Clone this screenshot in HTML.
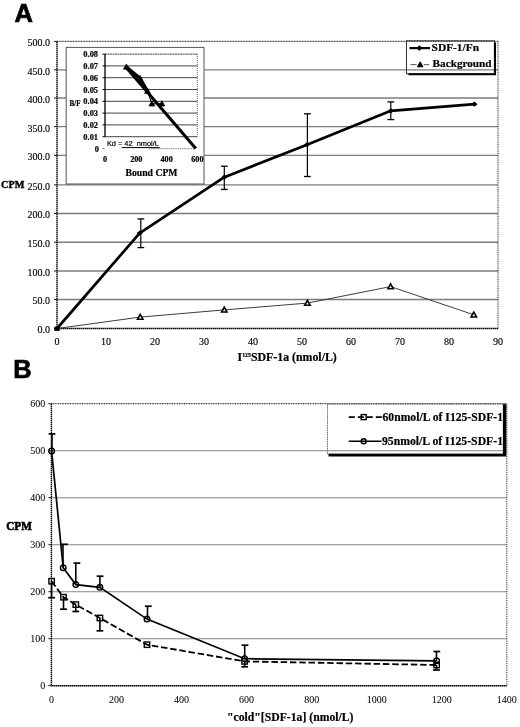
<!DOCTYPE html>
<html><head><meta charset="utf-8"><style>
html,body{margin:0;padding:0;background:#fff;width:520px;height:727px;overflow:hidden}
svg{display:block}
</style></head><body>
<svg width="520" height="727" viewBox="0 0 520 727">
<defs><filter id="bl" x="0" y="0" width="520" height="727" filterUnits="userSpaceOnUse"><feGaussianBlur stdDeviation="0.45"/></filter></defs>
<rect width="520" height="727" fill="#fff"/>
<g filter="url(#bl)">
<text x="14.40" y="22.30" style="font-family:'Liberation Sans',sans-serif;font-size:25.5px;font-weight:bold;stroke:#000;stroke-width:0.7px">A</text>
<line x1="57.00" y1="299.50" x2="498.00" y2="299.50" stroke="#7c7c7c" stroke-width="1.35"/>
<line x1="57.00" y1="271.00" x2="498.00" y2="271.00" stroke="#7c7c7c" stroke-width="1.35"/>
<line x1="57.00" y1="242.20" x2="498.00" y2="242.20" stroke="#7c7c7c" stroke-width="1.35"/>
<line x1="57.00" y1="213.50" x2="498.00" y2="213.50" stroke="#7c7c7c" stroke-width="1.35"/>
<line x1="57.00" y1="184.90" x2="498.00" y2="184.90" stroke="#7c7c7c" stroke-width="1.35"/>
<line x1="57.00" y1="155.30" x2="498.00" y2="155.30" stroke="#7c7c7c" stroke-width="1.35"/>
<line x1="57.00" y1="126.60" x2="498.00" y2="126.60" stroke="#7c7c7c" stroke-width="1.35"/>
<line x1="57.00" y1="98.00" x2="498.00" y2="98.00" stroke="#7c7c7c" stroke-width="1.35"/>
<line x1="57.00" y1="69.80" x2="498.00" y2="69.80" stroke="#7c7c7c" stroke-width="1.35"/>
<line x1="57.00" y1="41.40" x2="498.00" y2="41.40" stroke="#333" stroke-width="1.2" stroke-dasharray="1 0.6"/>
<line x1="498.00" y1="41.40" x2="498.00" y2="328.50" stroke="#333" stroke-width="1.1" stroke-dasharray="1 0.8"/>
<line x1="57.00" y1="41.40" x2="57.00" y2="328.50" stroke="#000" stroke-width="1.4" stroke-dasharray="1.6 0.4"/>
<line x1="57.00" y1="328.50" x2="498.00" y2="328.50" stroke="#000" stroke-width="1.5" stroke-dasharray="1.6 0.4"/>
<line x1="54.00" y1="328.50" x2="57.00" y2="328.50" stroke="#151515" stroke-width="1"/>
<text x="50.00" y="333.40" text-anchor="end" style="font-family:'Liberation Serif',serif;font-size:10px;stroke:#000;stroke-width:0.15px">0.0</text>
<line x1="54.00" y1="299.50" x2="57.00" y2="299.50" stroke="#151515" stroke-width="1"/>
<text x="50.00" y="304.40" text-anchor="end" style="font-family:'Liberation Serif',serif;font-size:10px;stroke:#000;stroke-width:0.15px">50.0</text>
<line x1="54.00" y1="271.00" x2="57.00" y2="271.00" stroke="#151515" stroke-width="1"/>
<text x="50.00" y="275.90" text-anchor="end" style="font-family:'Liberation Serif',serif;font-size:10px;stroke:#000;stroke-width:0.15px">100.0</text>
<line x1="54.00" y1="242.20" x2="57.00" y2="242.20" stroke="#151515" stroke-width="1"/>
<text x="50.00" y="247.10" text-anchor="end" style="font-family:'Liberation Serif',serif;font-size:10px;stroke:#000;stroke-width:0.15px">150.0</text>
<line x1="54.00" y1="213.50" x2="57.00" y2="213.50" stroke="#151515" stroke-width="1"/>
<text x="50.00" y="218.40" text-anchor="end" style="font-family:'Liberation Serif',serif;font-size:10px;stroke:#000;stroke-width:0.15px">200.0</text>
<line x1="54.00" y1="184.90" x2="57.00" y2="184.90" stroke="#151515" stroke-width="1"/>
<text x="50.00" y="189.80" text-anchor="end" style="font-family:'Liberation Serif',serif;font-size:10px;stroke:#000;stroke-width:0.15px">250.0</text>
<line x1="54.00" y1="155.30" x2="57.00" y2="155.30" stroke="#151515" stroke-width="1"/>
<text x="50.00" y="160.20" text-anchor="end" style="font-family:'Liberation Serif',serif;font-size:10px;stroke:#000;stroke-width:0.15px">300.0</text>
<line x1="54.00" y1="126.60" x2="57.00" y2="126.60" stroke="#151515" stroke-width="1"/>
<text x="50.00" y="131.50" text-anchor="end" style="font-family:'Liberation Serif',serif;font-size:10px;stroke:#000;stroke-width:0.15px">350.0</text>
<line x1="54.00" y1="98.00" x2="57.00" y2="98.00" stroke="#151515" stroke-width="1"/>
<text x="50.00" y="102.90" text-anchor="end" style="font-family:'Liberation Serif',serif;font-size:10px;stroke:#000;stroke-width:0.15px">400.0</text>
<line x1="54.00" y1="69.80" x2="57.00" y2="69.80" stroke="#151515" stroke-width="1"/>
<text x="50.00" y="74.70" text-anchor="end" style="font-family:'Liberation Serif',serif;font-size:10px;stroke:#000;stroke-width:0.15px">450.0</text>
<line x1="54.00" y1="41.40" x2="57.00" y2="41.40" stroke="#151515" stroke-width="1"/>
<text x="50.00" y="46.30" text-anchor="end" style="font-family:'Liberation Serif',serif;font-size:10px;stroke:#000;stroke-width:0.15px">500.0</text>
<text x="57.00" y="344.80" text-anchor="middle" style="font-family:'Liberation Serif',serif;font-size:10px;stroke:#000;stroke-width:0.15px">0</text>
<text x="106.00" y="344.80" text-anchor="middle" style="font-family:'Liberation Serif',serif;font-size:10px;stroke:#000;stroke-width:0.15px">10</text>
<text x="155.00" y="344.80" text-anchor="middle" style="font-family:'Liberation Serif',serif;font-size:10px;stroke:#000;stroke-width:0.15px">20</text>
<text x="204.00" y="344.80" text-anchor="middle" style="font-family:'Liberation Serif',serif;font-size:10px;stroke:#000;stroke-width:0.15px">30</text>
<text x="253.00" y="344.80" text-anchor="middle" style="font-family:'Liberation Serif',serif;font-size:10px;stroke:#000;stroke-width:0.15px">40</text>
<text x="302.00" y="344.80" text-anchor="middle" style="font-family:'Liberation Serif',serif;font-size:10px;stroke:#000;stroke-width:0.15px">50</text>
<text x="351.00" y="344.80" text-anchor="middle" style="font-family:'Liberation Serif',serif;font-size:10px;stroke:#000;stroke-width:0.15px">60</text>
<text x="400.00" y="344.80" text-anchor="middle" style="font-family:'Liberation Serif',serif;font-size:10px;stroke:#000;stroke-width:0.15px">70</text>
<text x="449.00" y="344.80" text-anchor="middle" style="font-family:'Liberation Serif',serif;font-size:10px;stroke:#000;stroke-width:0.15px">80</text>
<text x="498.00" y="344.80" text-anchor="middle" style="font-family:'Liberation Serif',serif;font-size:10px;stroke:#000;stroke-width:0.15px">90</text>
<text x="1.00" y="187.70" textLength="23.30" lengthAdjust="spacingAndGlyphs" style="font-family:'Liberation Serif',serif;font-size:10.5px;font-weight:bold;stroke:#000;stroke-width:0.4px">CPM</text>
<text x="237.6" y="361.3" style="font-family:'Liberation Serif',serif;font-weight:bold;font-size:11.85px;stroke:#000;stroke-width:0.2px">I<tspan dy="-4.6" style="font-size:5.8px">125</tspan><tspan dy="4.6">SDF-1a (nmol/L)</tspan></text>
<polyline fill="none" stroke="#333" stroke-width="0.95" points="57,328.5 140.2,317.1 224.3,309.9 307.4,303.1 390.6,286.6 473.8,314.8"/>
<path d="M140.20,314.40 L142.90,319.26 L137.50,319.26 Z" fill="#fff" stroke="#000" stroke-width="1.6"/>
<path d="M224.30,307.20 L227.00,312.06 L221.60,312.06 Z" fill="#fff" stroke="#000" stroke-width="1.6"/>
<path d="M307.40,300.40 L310.10,305.26 L304.70,305.26 Z" fill="#fff" stroke="#000" stroke-width="1.6"/>
<path d="M390.60,283.90 L393.30,288.76 L387.90,288.76 Z" fill="#fff" stroke="#000" stroke-width="1.6"/>
<path d="M473.80,312.10 L476.50,316.96 L471.10,316.96 Z" fill="#fff" stroke="#000" stroke-width="1.6"/>
<line x1="140.80" y1="218.90" x2="140.80" y2="247.60" stroke="#000" stroke-width="1.2"/>
<line x1="137.40" y1="218.90" x2="144.20" y2="218.90" stroke="#000" stroke-width="1.3"/>
<line x1="137.40" y1="247.60" x2="144.20" y2="247.60" stroke="#000" stroke-width="1.3"/>
<line x1="224.30" y1="166.20" x2="224.30" y2="189.40" stroke="#000" stroke-width="1.2"/>
<line x1="220.90" y1="166.20" x2="227.70" y2="166.20" stroke="#000" stroke-width="1.3"/>
<line x1="220.90" y1="189.40" x2="227.70" y2="189.40" stroke="#000" stroke-width="1.3"/>
<line x1="307.40" y1="113.80" x2="307.40" y2="176.50" stroke="#000" stroke-width="1.2"/>
<line x1="304.00" y1="113.80" x2="310.80" y2="113.80" stroke="#000" stroke-width="1.3"/>
<line x1="304.00" y1="176.50" x2="310.80" y2="176.50" stroke="#000" stroke-width="1.3"/>
<line x1="390.80" y1="101.90" x2="390.80" y2="119.60" stroke="#000" stroke-width="1.2"/>
<line x1="387.40" y1="101.90" x2="394.20" y2="101.90" stroke="#000" stroke-width="1.3"/>
<line x1="387.40" y1="119.60" x2="394.20" y2="119.60" stroke="#000" stroke-width="1.3"/>
<polyline fill="none" stroke="#000" stroke-width="2.7" stroke-linejoin="round" points="57,328.5 139.7,233.1 224.3,177.2 307,144.7 390.8,110.8 474.6,104.2"/>
<path d="M139.70,230.50 L142.70,233.10 L139.70,235.70 L136.70,233.10 Z" fill="#000"/>
<path d="M224.30,174.60 L227.30,177.20 L224.30,179.80 L221.30,177.20 Z" fill="#000"/>
<path d="M307.00,142.10 L310.00,144.70 L307.00,147.30 L304.00,144.70 Z" fill="#000"/>
<path d="M390.80,108.20 L393.80,110.80 L390.80,113.40 L387.80,110.80 Z" fill="#000"/>
<path d="M474.40,101.60 L477.60,104.20 L474.40,106.80 L471.20,104.20 Z" fill="#000"/>
<rect x="54.3" y="326.6" width="5.4" height="4.3" fill="#000"/>
<rect x="406.5" y="40.8" width="88" height="33" fill="none" stroke="#333" stroke-width="1"/>
<path d="M493.9,42.5 H496 V75.2 H408.5 V73.2 H493.9 Z" fill="#000"/>
<line x1="409.50" y1="48.10" x2="430.00" y2="48.10" stroke="#000" stroke-width="2.2"/>
<path d="M419.40,45.30 L422.20,48.10 L419.40,50.90 L416.60,48.10 Z" fill="#000"/>
<text x="431.60" y="51.30" textLength="47.40" lengthAdjust="spacingAndGlyphs" style="font-family:'Liberation Serif',serif;font-size:11.4px;font-weight:bold;stroke:#000;stroke-width:0.2px">SDF-1/Fn</text>
<line x1="410.50" y1="64.60" x2="416.50" y2="64.60" stroke="#555" stroke-width="1"/>
<line x1="423.80" y1="64.60" x2="429.00" y2="64.60" stroke="#555" stroke-width="1"/>
<path d="M420.20,61.80 L423.00,66.84 L417.40,66.84 Z" fill="#000" stroke="#000" stroke-width="1.0"/>
<text x="432.60" y="66.70" textLength="59.00" lengthAdjust="spacingAndGlyphs" style="font-family:'Liberation Serif',serif;font-size:11.2px;font-weight:bold;stroke:#000;stroke-width:0.2px">Background</text>
<rect x="66.2" y="47.4" width="137.8" height="136.6" fill="#fff" stroke="#555" stroke-width="1"/>
<line x1="105.00" y1="136.70" x2="197.30" y2="136.70" stroke="#444" stroke-width="1"/>
<line x1="102.50" y1="136.70" x2="105.00" y2="136.70" stroke="#000" stroke-width="1"/>
<text x="98.00" y="139.70" text-anchor="end" style="font-family:'Liberation Serif',serif;font-size:8.4px;font-weight:bold;stroke:#000;stroke-width:0.2px">0.01</text>
<line x1="105.00" y1="124.90" x2="197.30" y2="124.90" stroke="#444" stroke-width="1"/>
<line x1="102.50" y1="124.90" x2="105.00" y2="124.90" stroke="#000" stroke-width="1"/>
<text x="98.00" y="127.90" text-anchor="end" style="font-family:'Liberation Serif',serif;font-size:8.4px;font-weight:bold;stroke:#000;stroke-width:0.2px">0.02</text>
<line x1="105.00" y1="113.10" x2="197.30" y2="113.10" stroke="#444" stroke-width="1"/>
<line x1="102.50" y1="113.10" x2="105.00" y2="113.10" stroke="#000" stroke-width="1"/>
<text x="98.00" y="116.10" text-anchor="end" style="font-family:'Liberation Serif',serif;font-size:8.4px;font-weight:bold;stroke:#000;stroke-width:0.2px">0.03</text>
<line x1="105.00" y1="101.30" x2="197.30" y2="101.30" stroke="#444" stroke-width="1"/>
<line x1="102.50" y1="101.30" x2="105.00" y2="101.30" stroke="#000" stroke-width="1"/>
<text x="98.00" y="104.30" text-anchor="end" style="font-family:'Liberation Serif',serif;font-size:8.4px;font-weight:bold;stroke:#000;stroke-width:0.2px">0.04</text>
<line x1="105.00" y1="89.50" x2="197.30" y2="89.50" stroke="#444" stroke-width="1"/>
<line x1="102.50" y1="89.50" x2="105.00" y2="89.50" stroke="#000" stroke-width="1"/>
<text x="98.00" y="92.50" text-anchor="end" style="font-family:'Liberation Serif',serif;font-size:8.4px;font-weight:bold;stroke:#000;stroke-width:0.2px">0.05</text>
<line x1="105.00" y1="77.70" x2="197.30" y2="77.70" stroke="#444" stroke-width="1"/>
<line x1="102.50" y1="77.70" x2="105.00" y2="77.70" stroke="#000" stroke-width="1"/>
<text x="98.00" y="80.70" text-anchor="end" style="font-family:'Liberation Serif',serif;font-size:8.4px;font-weight:bold;stroke:#000;stroke-width:0.2px">0.06</text>
<line x1="105.00" y1="65.90" x2="197.30" y2="65.90" stroke="#444" stroke-width="1"/>
<line x1="102.50" y1="65.90" x2="105.00" y2="65.90" stroke="#000" stroke-width="1"/>
<text x="98.00" y="68.90" text-anchor="end" style="font-family:'Liberation Serif',serif;font-size:8.4px;font-weight:bold;stroke:#000;stroke-width:0.2px">0.07</text>
<line x1="105.00" y1="54.10" x2="197.30" y2="54.10" stroke="#444" stroke-width="1" stroke-dasharray="2 0.5"/>
<line x1="102.50" y1="54.10" x2="105.00" y2="54.10" stroke="#000" stroke-width="1"/>
<text x="98.00" y="57.10" text-anchor="end" style="font-family:'Liberation Serif',serif;font-size:8.4px;font-weight:bold;stroke:#000;stroke-width:0.2px">0.08</text>
<text x="99.00" y="151.50" text-anchor="end" style="font-family:'Liberation Serif',serif;font-size:8.4px;font-weight:bold;stroke:#000;stroke-width:0.2px">0</text>
<line x1="102.50" y1="148.50" x2="104.50" y2="148.50" stroke="#555" stroke-width="0.8"/>
<line x1="149.00" y1="148.70" x2="194.00" y2="148.70" stroke="#777" stroke-width="0.9" stroke-dasharray="1.5 0.7"/>
<line x1="197.30" y1="54.10" x2="197.30" y2="136.70" stroke="#555" stroke-width="1" stroke-dasharray="1 1"/>
<line x1="105.00" y1="54.10" x2="105.00" y2="136.70" stroke="#000" stroke-width="1.3"/>
<text x="69.50" y="105.50" textLength="11.00" lengthAdjust="spacingAndGlyphs" style="font-family:'Liberation Serif',serif;font-size:7.6px;font-weight:bold;stroke:#000;stroke-width:0.2px">B/F</text>
<text x="105.00" y="162.40" text-anchor="middle" style="font-family:'Liberation Serif',serif;font-size:8.2px;font-weight:bold;stroke:#000;stroke-width:0.2px">0</text>
<text x="136.30" y="162.40" text-anchor="middle" style="font-family:'Liberation Serif',serif;font-size:8.2px;font-weight:bold;stroke:#000;stroke-width:0.2px">200</text>
<text x="166.60" y="162.40" text-anchor="middle" style="font-family:'Liberation Serif',serif;font-size:8.2px;font-weight:bold;stroke:#000;stroke-width:0.2px">400</text>
<text x="197.40" y="162.40" text-anchor="middle" style="font-family:'Liberation Serif',serif;font-size:8.2px;font-weight:bold;stroke:#000;stroke-width:0.2px">600</text>
<text x="125.50" y="176.40" textLength="52.00" lengthAdjust="spacingAndGlyphs" style="font-family:'Liberation Serif',serif;font-size:9.8px;font-weight:bold;stroke:#000;stroke-width:0.2px">Bound CPM</text>
<text x="106.90" y="146.40" textLength="52.00" lengthAdjust="spacingAndGlyphs" style="font-family:'Liberation Sans',sans-serif;font-size:7.6px" stroke="#000" stroke-width="0.2">Kd = 42&#160;&#160;nmol/L</text>
<line x1="121.70" y1="147.60" x2="159.80" y2="147.60" stroke="#000" stroke-width="1"/>
<line x1="125.40" y1="66.50" x2="195.80" y2="148.60" stroke="#000" stroke-width="3.0"/>
<polyline fill="none" stroke="#000" stroke-width="1.1" points="147.5,91.0 151.9,103.7 161.9,103.7"/>
<polyline fill="none" stroke="#000" stroke-width="3.2" stroke-linejoin="round" points="126.4,66.9 140.0,78.3 147.5,91.0"/>
<path d="M126.40,63.90 L129.40,69.30 L123.40,69.30 Z" fill="#000" stroke="#000" stroke-width="0.6"/>
<path d="M140.00,75.30 L143.00,80.70 L137.00,80.70 Z" fill="#000" stroke="#000" stroke-width="0.6"/>
<path d="M147.50,88.00 L150.50,93.40 L144.50,93.40 Z" fill="#000" stroke="#000" stroke-width="0.6"/>
<path d="M151.90,100.70 L154.90,106.10 L148.90,106.10 Z" fill="#000" stroke="#000" stroke-width="0.6"/>
<path d="M161.90,100.70 L164.90,106.10 L158.90,106.10 Z" fill="#000" stroke="#000" stroke-width="0.6"/>
<text x="13.20" y="378.10" style="font-family:'Liberation Sans',sans-serif;font-size:25.5px;font-weight:bold;stroke:#000;stroke-width:0.7px">B</text>
<line x1="51.40" y1="638.70" x2="506.80" y2="638.70" stroke="#858585" stroke-width="1.15"/>
<line x1="51.40" y1="591.70" x2="506.80" y2="591.70" stroke="#858585" stroke-width="1.15"/>
<line x1="51.40" y1="544.70" x2="506.80" y2="544.70" stroke="#858585" stroke-width="1.15"/>
<line x1="51.40" y1="497.70" x2="506.80" y2="497.70" stroke="#858585" stroke-width="1.15"/>
<line x1="51.40" y1="450.70" x2="506.80" y2="450.70" stroke="#858585" stroke-width="1.15"/>
<line x1="51.40" y1="403.70" x2="506.80" y2="403.70" stroke="#333" stroke-width="1.2" stroke-dasharray="1 0.7"/>
<line x1="506.80" y1="403.70" x2="506.80" y2="685.70" stroke="#444" stroke-width="1.1" stroke-dasharray="1 0.8"/>
<line x1="51.40" y1="403.70" x2="51.40" y2="685.70" stroke="#000" stroke-width="1.4" stroke-dasharray="1.6 0.4"/>
<line x1="51.40" y1="685.70" x2="506.80" y2="685.70" stroke="#000" stroke-width="1.5" stroke-dasharray="1.6 0.4"/>
<line x1="48.40" y1="685.70" x2="51.40" y2="685.70" stroke="#151515" stroke-width="1"/>
<text x="45.20" y="689.20" text-anchor="end" style="font-family:'Liberation Serif',serif;font-size:10px;stroke:#000;stroke-width:0.05px">0</text>
<line x1="48.40" y1="638.70" x2="51.40" y2="638.70" stroke="#151515" stroke-width="1"/>
<text x="45.20" y="642.20" text-anchor="end" style="font-family:'Liberation Serif',serif;font-size:10px;stroke:#000;stroke-width:0.05px">100</text>
<line x1="48.40" y1="591.70" x2="51.40" y2="591.70" stroke="#151515" stroke-width="1"/>
<text x="45.20" y="595.20" text-anchor="end" style="font-family:'Liberation Serif',serif;font-size:10px;stroke:#000;stroke-width:0.05px">200</text>
<line x1="48.40" y1="544.70" x2="51.40" y2="544.70" stroke="#151515" stroke-width="1"/>
<text x="45.20" y="548.20" text-anchor="end" style="font-family:'Liberation Serif',serif;font-size:10px;stroke:#000;stroke-width:0.05px">300</text>
<line x1="48.40" y1="497.70" x2="51.40" y2="497.70" stroke="#151515" stroke-width="1"/>
<text x="45.20" y="501.20" text-anchor="end" style="font-family:'Liberation Serif',serif;font-size:10px;stroke:#000;stroke-width:0.05px">400</text>
<line x1="48.40" y1="450.70" x2="51.40" y2="450.70" stroke="#151515" stroke-width="1"/>
<text x="45.20" y="454.20" text-anchor="end" style="font-family:'Liberation Serif',serif;font-size:10px;stroke:#000;stroke-width:0.05px">500</text>
<line x1="48.40" y1="403.70" x2="51.40" y2="403.70" stroke="#151515" stroke-width="1"/>
<text x="45.20" y="407.20" text-anchor="end" style="font-family:'Liberation Serif',serif;font-size:10px;stroke:#000;stroke-width:0.05px">600</text>
<text x="51.40" y="702.90" text-anchor="middle" style="font-family:'Liberation Serif',serif;font-size:10px;stroke:#000;stroke-width:0.05px">0</text>
<text x="116.46" y="702.90" text-anchor="middle" style="font-family:'Liberation Serif',serif;font-size:10px;stroke:#000;stroke-width:0.05px">200</text>
<text x="181.51" y="702.90" text-anchor="middle" style="font-family:'Liberation Serif',serif;font-size:10px;stroke:#000;stroke-width:0.05px">400</text>
<text x="246.57" y="702.90" text-anchor="middle" style="font-family:'Liberation Serif',serif;font-size:10px;stroke:#000;stroke-width:0.05px">600</text>
<text x="311.63" y="702.90" text-anchor="middle" style="font-family:'Liberation Serif',serif;font-size:10px;stroke:#000;stroke-width:0.05px">800</text>
<text x="376.69" y="702.90" text-anchor="middle" style="font-family:'Liberation Serif',serif;font-size:10px;stroke:#000;stroke-width:0.05px">1000</text>
<text x="441.74" y="702.90" text-anchor="middle" style="font-family:'Liberation Serif',serif;font-size:10px;stroke:#000;stroke-width:0.05px">1200</text>
<text x="506.80" y="702.90" text-anchor="middle" style="font-family:'Liberation Serif',serif;font-size:10px;stroke:#000;stroke-width:0.05px">1400</text>
<text x="6.20" y="529.80" textLength="25.60" lengthAdjust="spacingAndGlyphs" style="font-family:'Liberation Serif',serif;font-size:12.4px;font-weight:bold;stroke:#000;stroke-width:0.6px">CPM</text>
<text x="227.00" y="720.70" textLength="126.50" lengthAdjust="spacingAndGlyphs" style="font-family:'Liberation Serif',serif;font-size:11.6px;font-weight:bold;stroke:#000;stroke-width:0.2px">"cold"[SDF-1a] (nmol/L)</text>
<line x1="52.00" y1="433.90" x2="52.00" y2="450.90" stroke="#000" stroke-width="1.6"/>
<line x1="48.60" y1="433.90" x2="55.40" y2="433.90" stroke="#000" stroke-width="1.7"/>
<line x1="63.00" y1="544.30" x2="63.00" y2="567.80" stroke="#000" stroke-width="1.6"/>
<line x1="61.20" y1="544.30" x2="68.00" y2="544.30" stroke="#000" stroke-width="1.7"/>
<line x1="75.80" y1="563.10" x2="75.80" y2="584.60" stroke="#000" stroke-width="1.6"/>
<line x1="73.50" y1="563.10" x2="80.30" y2="563.10" stroke="#000" stroke-width="1.7"/>
<line x1="99.90" y1="576.20" x2="99.90" y2="587.30" stroke="#000" stroke-width="1.6"/>
<line x1="96.70" y1="576.20" x2="103.50" y2="576.20" stroke="#000" stroke-width="1.7"/>
<line x1="147.50" y1="606.20" x2="147.50" y2="619.10" stroke="#000" stroke-width="1.6"/>
<line x1="144.90" y1="606.20" x2="151.70" y2="606.20" stroke="#000" stroke-width="1.7"/>
<line x1="244.70" y1="645.20" x2="244.70" y2="658.70" stroke="#000" stroke-width="1.6"/>
<line x1="241.60" y1="645.20" x2="248.40" y2="645.20" stroke="#000" stroke-width="1.7"/>
<line x1="436.50" y1="651.50" x2="436.50" y2="660.80" stroke="#000" stroke-width="1.6"/>
<line x1="433.40" y1="651.50" x2="440.20" y2="651.50" stroke="#000" stroke-width="1.7"/>
<line x1="51.60" y1="581.20" x2="51.60" y2="597.70" stroke="#000" stroke-width="1.6"/>
<line x1="48.20" y1="597.70" x2="55.00" y2="597.70" stroke="#000" stroke-width="1.7"/>
<line x1="63.50" y1="597.20" x2="63.50" y2="609.20" stroke="#000" stroke-width="1.6"/>
<line x1="60.10" y1="609.20" x2="66.90" y2="609.20" stroke="#000" stroke-width="1.7"/>
<line x1="75.80" y1="604.60" x2="75.80" y2="611.50" stroke="#000" stroke-width="1.6"/>
<line x1="72.40" y1="611.50" x2="79.20" y2="611.50" stroke="#000" stroke-width="1.7"/>
<line x1="99.90" y1="618.00" x2="99.90" y2="630.80" stroke="#000" stroke-width="1.6"/>
<line x1="96.50" y1="630.80" x2="103.30" y2="630.80" stroke="#000" stroke-width="1.7"/>
<line x1="244.70" y1="661.40" x2="244.70" y2="666.80" stroke="#000" stroke-width="1.6"/>
<line x1="241.30" y1="666.80" x2="248.10" y2="666.80" stroke="#000" stroke-width="1.7"/>
<line x1="436.50" y1="665.00" x2="436.50" y2="670.00" stroke="#000" stroke-width="1.6"/>
<line x1="433.10" y1="670.00" x2="439.90" y2="670.00" stroke="#000" stroke-width="1.7"/>
<polyline fill="none" stroke="#000" stroke-width="1.7" points="51.6,450.9 63.2,567.8 75.8,584.6 99.9,587.3 147,619.1 244.6,658.7 436.6,660.8"/>
<polyline fill="none" stroke="#000" stroke-width="1.8" stroke-dasharray="6.5 2.8" points="51.6,581.2 63.5,597.2 75.8,604.6 99.9,618 147,644.7 244.6,661.4 436.6,665.0"/>
<circle cx="51.6" cy="450.9" r="2.8" fill="none" stroke="#000" stroke-width="1.4"/>
<circle cx="63.2" cy="567.8" r="2.8" fill="none" stroke="#000" stroke-width="1.4"/>
<circle cx="75.8" cy="584.6" r="2.8" fill="none" stroke="#000" stroke-width="1.4"/>
<circle cx="99.9" cy="587.3" r="2.8" fill="none" stroke="#000" stroke-width="1.4"/>
<circle cx="147" cy="619.1" r="2.8" fill="none" stroke="#000" stroke-width="1.4"/>
<circle cx="244.6" cy="658.7" r="2.8" fill="none" stroke="#000" stroke-width="1.4"/>
<circle cx="436.6" cy="660.8" r="2.8" fill="none" stroke="#000" stroke-width="1.4"/>
<rect x="48.9" y="578.5" width="5.4" height="5.4" fill="none" stroke="#000" stroke-width="1.4"/>
<rect x="60.8" y="594.5" width="5.4" height="5.4" fill="none" stroke="#000" stroke-width="1.4"/>
<rect x="73.1" y="601.9" width="5.4" height="5.4" fill="none" stroke="#000" stroke-width="1.4"/>
<rect x="97.2" y="615.3" width="5.4" height="5.4" fill="none" stroke="#000" stroke-width="1.4"/>
<rect x="144.3" y="642.0" width="5.4" height="5.4" fill="none" stroke="#000" stroke-width="1.4"/>
<rect x="241.9" y="658.6999999999999" width="5.4" height="5.4" fill="none" stroke="#000" stroke-width="1.4"/>
<rect x="433.90000000000003" y="662.3" width="5.4" height="5.4" fill="none" stroke="#000" stroke-width="1.4"/>
<rect x="327.5" y="404.0" width="176" height="50" fill="none" stroke="#666" stroke-width="1" stroke-dasharray="1.2 0.6"/>
<path d="M502.9,404.3 H506.3 V456.4 H328.5 V453.7 H502.9 Z" fill="#000"/>
<line x1="348.80" y1="417.10" x2="384.00" y2="417.10" stroke="#000" stroke-width="1.6" stroke-dasharray="6 3"/>
<rect x="361.2" y="414.6" width="5.0" height="5.0" fill="none" stroke="#000" stroke-width="1.4"/>
<line x1="348.80" y1="441.30" x2="381.50" y2="441.30" stroke="#000" stroke-width="1.6"/>
<circle cx="363.7" cy="441.3" r="2.5" fill="none" stroke="#000" stroke-width="1.4"/>
<svg x="300" y="400" width="202.3" height="60" overflow="hidden">
<text x="82.50" y="20.90" textLength="120.50" lengthAdjust="spacingAndGlyphs" style="font-family:'Liberation Serif',serif;font-size:11.5px;font-weight:bold;stroke:#000;stroke-width:0.2px">60nmol/L of I125-SDF-1</text>
<text x="82.00" y="44.50" textLength="121.00" lengthAdjust="spacingAndGlyphs" style="font-family:'Liberation Serif',serif;font-size:11.5px;font-weight:bold;stroke:#000;stroke-width:0.2px">95nmol/L of I125-SDF-1</text>
</svg>
</g>
</svg>
</body></html>
